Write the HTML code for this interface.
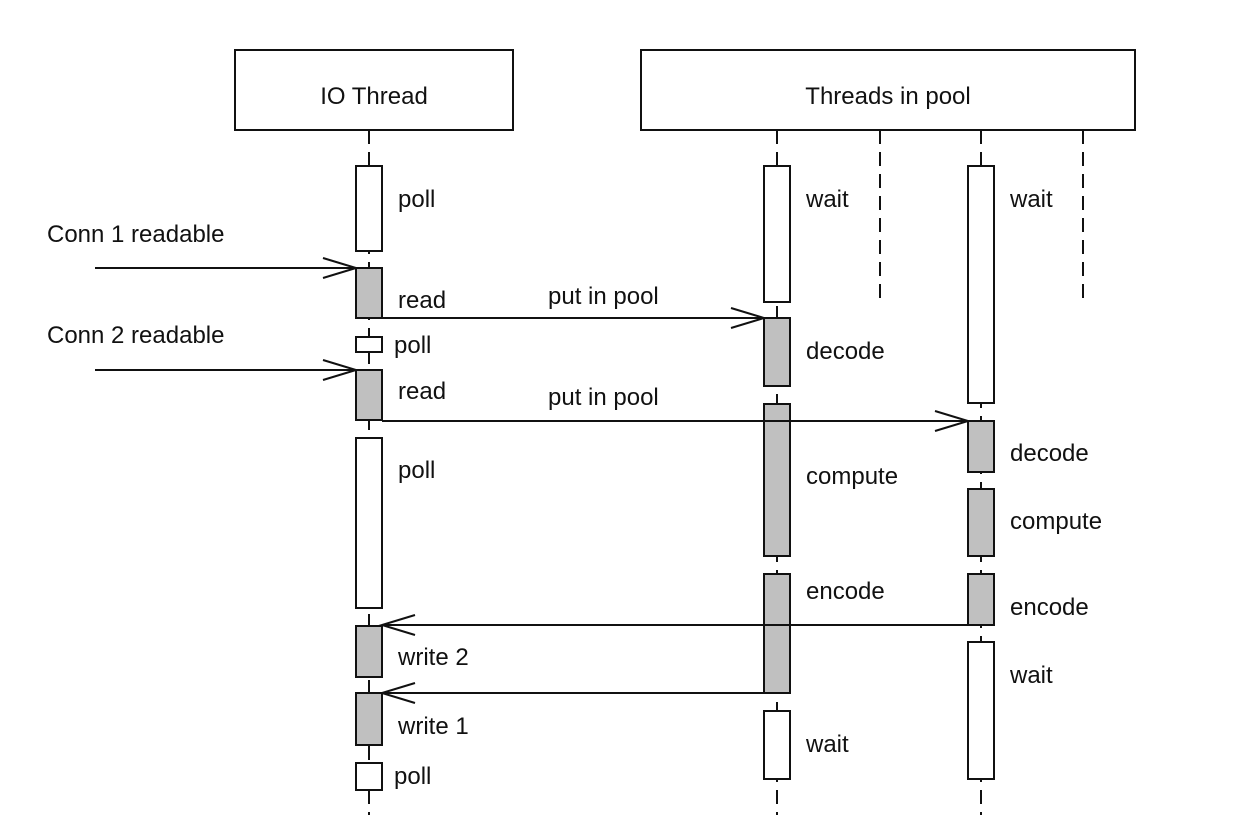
<!DOCTYPE html>
<html><head><style>html,body{margin:0;padding:0;background:#fff}svg{display:block}text{font-family:"Liberation Sans",Arial,sans-serif;font-size:24px;fill:#111}</style></head>
<body>
<svg width="1233" height="836" viewBox="0 0 1233 836">
<g stroke="#111" stroke-width="2" fill="none">
<rect x="235" y="50" width="278" height="80"/>
<rect x="641" y="50" width="494" height="80"/>
</g>
<g stroke="#111" stroke-width="2" stroke-dasharray="14,8">
<line x1="369" y1="130" x2="369" y2="815"/>
<line x1="777" y1="130" x2="777" y2="815"/>
<line x1="981" y1="130" x2="981" y2="815"/>
<line x1="880" y1="130" x2="880" y2="298"/>
<line x1="1083" y1="130" x2="1083" y2="298"/>
</g>
<g stroke="#111" stroke-width="2">
<rect x="356" y="166" width="26" height="85" fill="#fff"/>
<rect x="356" y="268" width="26" height="50" fill="#c0c0c0"/>
<rect x="356" y="337" width="26" height="15" fill="#fff"/>
<rect x="356" y="370" width="26" height="50" fill="#c0c0c0"/>
<rect x="356" y="438" width="26" height="170" fill="#fff"/>
<rect x="356" y="626" width="26" height="51" fill="#c0c0c0"/>
<rect x="356" y="693" width="26" height="52" fill="#c0c0c0"/>
<rect x="356" y="763" width="26" height="27" fill="#fff"/>
<rect x="764" y="166" width="26" height="136" fill="#fff"/>
<rect x="764" y="318" width="26" height="68" fill="#c0c0c0"/>
<rect x="764" y="404" width="26" height="152" fill="#c0c0c0"/>
<rect x="764" y="574" width="26" height="119" fill="#c0c0c0"/>
<rect x="764" y="711" width="26" height="68" fill="#fff"/>
<rect x="968" y="166" width="26" height="237" fill="#fff"/>
<rect x="968" y="421" width="26" height="51" fill="#c0c0c0"/>
<rect x="968" y="489" width="26" height="67" fill="#c0c0c0"/>
<rect x="968" y="574" width="26" height="51" fill="#c0c0c0"/>
<rect x="968" y="642" width="26" height="137" fill="#fff"/>
</g>
<g stroke="#111" stroke-width="2" fill="none">
<line x1="95" y1="268" x2="356" y2="268"/><polyline points="323,258 356,268 323,278"/>
<line x1="95" y1="370" x2="356" y2="370"/><polyline points="323,360 356,370 323,380"/>
<line x1="382" y1="318" x2="764" y2="318"/><polyline points="731,308 764,318 731,328"/>
<line x1="382" y1="421" x2="968" y2="421"/><polyline points="935,411 968,421 935,431"/>
<line x1="968" y1="625" x2="382" y2="625"/><polyline points="415,615 382,625 415,635"/>
<line x1="764" y1="693" x2="382" y2="693"/><polyline points="415,683 382,693 415,703"/>
</g>
<text x="374" y="104" text-anchor="middle">IO Thread</text>
<text x="888" y="104" text-anchor="middle">Threads in pool</text>
<text x="47" y="242">Conn 1 readable</text>
<text x="47" y="343">Conn 2 readable</text>
<text x="398" y="207">poll</text>
<text x="398" y="308">read</text>
<text x="394" y="353">poll</text>
<text x="398" y="399">read</text>
<text x="398" y="478">poll</text>
<text x="398" y="665">write 2</text>
<text x="398" y="734">write 1</text>
<text x="394" y="784">poll</text>
<text x="548" y="304">put in pool</text>
<text x="548" y="405">put in pool</text>
<text x="806" y="207">wait</text>
<text x="806" y="359">decode</text>
<text x="806" y="484">compute</text>
<text x="806" y="599">encode</text>
<text x="806" y="752">wait</text>
<text x="1010" y="207">wait</text>
<text x="1010" y="461">decode</text>
<text x="1010" y="529">compute</text>
<text x="1010" y="615">encode</text>
<text x="1010" y="683">wait</text>
</svg>
</body></html>
